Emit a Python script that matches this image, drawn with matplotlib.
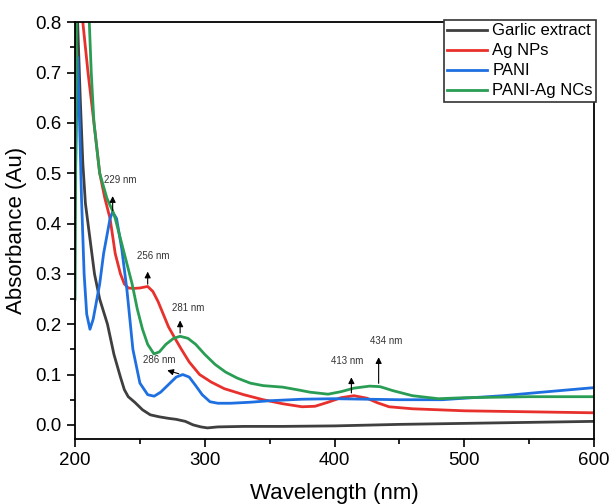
import numpy as np
import matplotlib
matplotlib.use("Agg")
import matplotlib.pyplot as plt
from matplotlib.ticker import MultipleLocator

plt.rcParams['font.family'] = ['Liberation Sans', 'DejaVu Sans']

# Garlic extract
garlic_x = [200, 202, 204, 206, 208, 211, 215, 219, 225, 230, 235, 238, 241, 246, 252, 258,
            265, 272, 278, 285, 291, 297, 302, 310, 330, 360, 400, 450, 500, 550, 600]
garlic_y = [1.2, 0.8, 0.65, 0.52, 0.44, 0.38, 0.3, 0.25, 0.2, 0.14, 0.095, 0.07, 0.056, 0.045, 0.03, 0.02,
            0.016, 0.013, 0.011, 0.007, 0.0, -0.004, -0.006, -0.004, -0.003, -0.003, -0.002, 0.001, 0.003, 0.005, 0.007]

# Ag NPs
ag_x = [200, 206, 210, 214.6, 219, 223, 227, 231, 235, 238, 241, 245, 250, 256, 260, 264, 268, 272,
        277, 282, 288, 296, 305, 315, 330, 345, 360, 375, 385, 395, 405, 415, 425, 433, 442, 460, 500, 550, 600]
ag_y = [1.2, 0.8, 0.7, 0.6, 0.5, 0.45, 0.41, 0.34, 0.3, 0.28, 0.272, 0.271, 0.272, 0.275, 0.265, 0.245, 0.22, 0.195,
        0.172, 0.15, 0.125, 0.1, 0.085, 0.072, 0.06, 0.05, 0.042, 0.036, 0.037, 0.045, 0.054, 0.058, 0.053, 0.044, 0.036,
        0.032, 0.028, 0.026, 0.024]

# PANI
pani_x = [200, 202, 203.5, 205, 207, 209, 211.5, 214, 219, 222, 227, 229, 232, 236, 240, 244.6, 250, 256,
          261, 266, 272, 278, 283, 288, 293, 298, 304, 310, 320, 335, 350, 375, 400, 450, 483, 500, 530, 560, 600]
pani_y = [0.45, 0.73, 0.6, 0.45, 0.3, 0.22, 0.19, 0.21, 0.28, 0.34, 0.41, 0.423, 0.41, 0.35, 0.268, 0.15, 0.083, 0.06,
          0.057, 0.065, 0.08, 0.095, 0.1, 0.095, 0.078, 0.06, 0.046, 0.043, 0.043, 0.045, 0.048, 0.051, 0.052, 0.05,
          0.05, 0.053, 0.058, 0.065, 0.074]

# PANI-Ag NCs
nc_x = [200, 201.5, 205, 209, 211, 212.5, 214.6, 219, 224.6, 229, 231, 235, 240, 244, 248, 252, 256, 260.8,
        265, 270, 276, 281, 287, 293, 300, 308, 316, 325, 335, 345, 360, 373, 381, 395, 405, 415, 427, 435, 445,
        460, 480, 500, 550, 600]
nc_y = [0.25, 1.0, 1.2, 0.95, 0.8, 0.7, 0.6, 0.5, 0.45, 0.425, 0.41, 0.37, 0.32, 0.28, 0.23, 0.19, 0.16, 0.141,
        0.145, 0.16, 0.172, 0.176, 0.172, 0.16, 0.14, 0.12, 0.105, 0.093, 0.083, 0.078, 0.075, 0.069, 0.065, 0.061,
        0.066, 0.073, 0.077, 0.076, 0.068, 0.058, 0.052, 0.054, 0.056, 0.056]

# peak labels: text, arrow tail (x, y), arrow head (x, y), text position
peak_labels = ["229 nm", "256 nm", "281 nm", "286 nm", "413 nm", "434 nm"]
tails = [(229, 0.42), (256, 0.274), (281, 0.177), (282, 0.1), (413, 0.058), (434, 0.077)]
heads = [(229, 0.46), (256, 0.31), (281, 0.213), (269, 0.11), (413, 0.1), (434, 0.14)]
text_pos = [(235, 0.477), (260, 0.325), (287, 0.222), (265, 0.118), (410, 0.116), (440, 0.157)]

fig = plt.figure(figsize=(6.11, 5.04), dpi=100)
ax = fig.add_axes([0.1228, 0.129, 0.8494, 0.827])

ax.plot(garlic_x, garlic_y, color='#3f3f3f', lw=2, label='Garlic extract')
ax.plot(ag_x, ag_y, color='#e8302c', lw=2, label='Ag NPs')
ax.plot(pani_x, pani_y, color='#1e6fe0', lw=2, label='PANI')
ax.plot(nc_x, nc_y, color='#2a9d55', lw=2, label='PANI-Ag NCs')

for lab, t, h, p in zip(peak_labels, tails, heads, text_pos):
    ax.annotate('', xy=h, xytext=t,
                arrowprops=dict(arrowstyle='-|>', color='black', lw=0.8, mutation_scale=9))
    ax.text(p[0], p[1], lab, fontsize=7, color='#333333', ha='center', va='bottom')

ax.set_xlim(200, 600)
ax.set_ylim(-0.028, 0.8)
ax.xaxis.set_major_locator(MultipleLocator(100))
ax.xaxis.set_minor_locator(MultipleLocator(50))
ax.yaxis.set_minor_locator(MultipleLocator(0.05))
ax.tick_params(which='major', direction='out', length=6, width=1.2, labelsize=13.5)
ax.tick_params(which='minor', direction='out', length=3.5, width=1.2)
ax.set_yticks(np.arange(0, 0.81, 0.1))
ax.set_yticklabels([f"{v:.1f}" for v in np.arange(0, 0.81, 0.1)])
for s in ax.spines.values():
    s.set_linewidth(1.3)

ax.set_xlabel('Wavelength (nm)', fontsize=16, labelpad=10)
ax.set_ylabel('Absorbance (Au)', fontsize=16, labelpad=6)

leg = ax.legend(loc='upper right', bbox_to_anchor=(1.004, 1.005), fontsize=12, frameon=True,
                fancybox=False, edgecolor='#333333', framealpha=1, borderpad=0.2, labelspacing=0.3,
                handlelength=2.4, handletextpad=0.3, borderaxespad=0)
leg.get_frame().set_linewidth(1.2)

fig.savefig('out.png', dpi=100)
